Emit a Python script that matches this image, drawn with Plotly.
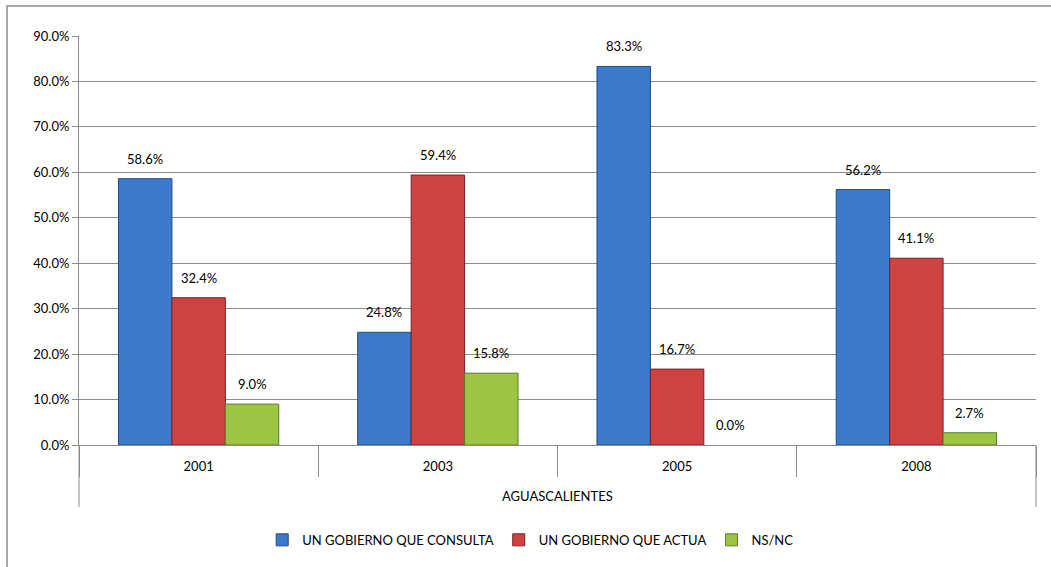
import plotly.graph_objects as go

region = "AGUASCALIENTES"
years = ["2001", "2003", "2005", "2008"]
consulta = [0.586, 0.248, 0.833, 0.562]
actua = [0.324, 0.594, 0.167, 0.411]
nsnc = [0.090, 0.158, 0.000, 0.027]

series = [
    ("UN GOBIERNO QUE CONSULTA", consulta, "#3C7ACB", "#1F4A80"),
    ("UN GOBIERNO QUE ACTUA", actua, "#CF4242", "#7A2020"),
    ("NS/NC", nsnc, "#9CC544", "#5E7A28"),
]

font = "Lato, 'Open Sans', sans-serif"
gap = 0.33
grey = "#8c8c8c"

fig = go.Figure()
annotations = []
bw = (1 - gap) / len(series)
for k, (name, vals, color, edge) in enumerate(series):
    fig.add_trace(go.Bar(
        name=name,
        x=years,
        y=vals,
        marker=dict(color=color,
                    line=dict(color=edge, width=[1 if v > 0 else 0 for v in vals])),
    ))
    # data labels sit a little above the bars, as in the original
    for i, v in enumerate(vals):
        annotations.append(dict(
            x=i + (k - (len(series) - 1) / 2) * bw, y=v,
            xref="x", yref="y",
            text=f"{v:.1%}", showarrow=False,
            yanchor="middle", yshift=20,
            font=dict(size=13, color="#000000"),
        ))

annotations.append(dict(
    x=0.5, y=-0.1247, xref="paper", yref="paper",
    text=region, showarrow=False, yanchor="middle",
    font=dict(size=13, color="#000000"),
))

fig.update_layout(
    barmode="group",
    bargap=gap,
    bargroupgap=0,
    width=1051,
    height=567,
    margin=dict(l=79, r=15, t=36, b=122, autoexpand=False),
    paper_bgcolor="white",
    plot_bgcolor="white",
    font=dict(family=font, size=13, color="#000000"),
    showlegend=True,
    legend=dict(
        orientation="h",
        x=0.472, xanchor="center",
        y=-0.232, yanchor="middle",
        font=dict(size=13),
        traceorder="normal",
    ),
    annotations=annotations,
    shapes=[
        dict(type="rect", xref="paper", yref="paper",
             x0=-0.0752, x1=1.2, y0=-0.5, y1=1.0733,
             line=dict(color=grey, width=1.5),
             fillcolor="rgba(0,0,0,0)", layer="below"),
        dict(type="line", xref="paper", yref="paper",
             x0=0, x1=0, y0=0, y1=-0.1516,
             line=dict(color=grey, width=1)),
        dict(type="line", xref="paper", yref="paper",
             x0=1, x1=1, y0=0, y1=-0.1516,
             line=dict(color=grey, width=1)),
    ],
)

fig.update_yaxes(
    range=[0, 0.9],
    dtick=0.1,
    tickformat=".1%",
    showgrid=True,
    gridcolor=grey,
    gridwidth=1,
    showline=True,
    linecolor=grey,
    linewidth=1,
    ticks="outside",
    ticklen=6,
    tickcolor=grey,
    zeroline=False,
    automargin=False,
)

fig.update_xaxes(
    type="category",
    showline=True,
    linecolor=grey,
    linewidth=1,
    ticks="outside",
    tickson="boundaries",
    ticklen=31,
    tickcolor=grey,
    ticklabelstandoff=9,
    tickfont=dict(size=13),
    automargin=False,
)

# drop the default 8px body margin so the chart fills the window like the original
fig.write_html("out.html", config={"displayModeBar": False},
               post_script="document.body.style.margin='0px';")
